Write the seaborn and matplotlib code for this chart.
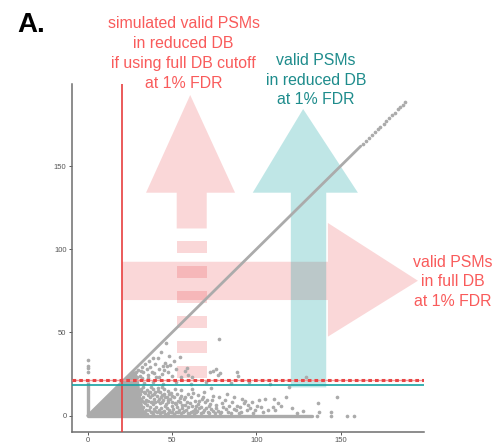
import matplotlib
matplotlib.use("Agg")
import matplotlib.pyplot as plt
import seaborn as sns
import pandas as pd
from matplotlib.patches import Polygon, Rectangle

sns.set_theme(style="white")
plt.rcParams['font.family'] = ['Liberation Sans', 'DejaVu Sans']

# ---------------- data ----------------
axis_ticks = [0, 50, 100, 150]
full_db_cutoff = 20.5          # vertical red line (x)
sim_reduced_cutoff = 21.5      # dashed red line (y)
reduced_db_cutoff = 18.3       # teal line (y)

diag_dense = [0, 162]          # points with x == y (dense run)
diag_sparse = [163.5, 165, 167, 168.5, 170.5, 172, 173.5, 175.5, 177, 179,
               180.5, 182, 184, 185.5, 187, 188.5]
zero_col_y = [0, 20]           # dense run of points at x == 0
zero_col_extra_y = [26.5, 28.5, 30, 33.5]
zero_row_x = [0, 133]          # dense run of points at y == 0
core_x = [0, 27, 29, 30.5, 31.5, 33, 35, 0]
core_y = [0, 27, 26, 20, 12, 5, 0, 0]

upper_x = [25.5, 27, 28.5, 30, 31, 32, 33, 34, 35, 35.5, 36.5, 37, 38, 39, 40, 40.5,
           41.9, 42.5, 43.5, 44, 45.3, 45.8, 46.5, 47.2, 48.5, 50, 51, 54.9, 57.7, 58.7,
           59.7, 62, 72.5, 74.5, 76.1, 77.5, 78.1, 78.5, 88.4, 89.3, 129.3,
           26, 29, 32.5, 36, 39.5, 42, 44.5, 47.8, 49, 52.5, 55.5, 31.5]
upper_y = [23.5, 24.5, 26, 27.5, 24, 29.5, 26, 31, 28, 24.5, 33, 29.5, 26.5, 34.5, 31, 23.5,
           34.5, 28, 38, 25, 27.5, 31.9, 43.9, 29.9, 36, 24, 33, 35.1, 27.1, 28.5,
           24.5, 23, 26.4, 27, 27.9, 24.5, 45.9, 25.8, 26.4, 23.9, 23.4,
           22.5, 23, 22.5, 22.8, 25.5, 23, 30, 26, 30.5, 28, 23.5, 27]
band_x = [33.5, 38.5, 44.5, 52.5, 61.0, 70.0, 85.0, 95.5, 108.0]
band_y = [19.5, 20.0, 19.0, 20.5, 19.2, 20.0, 19.5, 20.2, 19.0]
dense_x = [30.6, 31.3, 30.8, 31.6, 30.9, 31.4, 33.2, 32.7, 33.5, 32.9, 33.4, 33.0,
           35.1, 34.6, 35.4, 34.8, 35.6, 35.2, 37.3, 36.8, 37.5, 36.9, 37.2, 37.6,
           39.0, 39.4, 38.8, 39.6, 39.1, 38.9, 41.2, 40.8, 41.5, 41.0, 41.7,
           43.1, 43.6, 42.9, 43.4, 43.0, 43.8, 45.2, 45.7, 44.9, 45.5, 45.1,
           47.4, 46.9, 47.6, 47.1, 47.8, 49.3, 49.8, 49.0, 49.6,
           32.0, 32.2, 31.9, 34.0, 34.2, 33.9, 36.1, 35.9, 36.2, 38.0, 38.2, 37.9,
           40.1, 39.9, 40.2, 42.0, 42.2, 41.9, 44.1, 43.9, 44.2, 46.0, 46.2, 45.9,
           48.1, 47.9, 48.3, 50.0, 50.2, 49.8]
dense_y = [1.5, 4.0, 7.0, 10.0, 13.0, 16.0, 2.5, 5.5, 8.5, 11.5, 14.5, 17.0,
           1.0, 3.5, 6.5, 9.5, 12.5, 15.5, 2.0, 5.0, 8.0, 11.0, 14.0, 17.5,
           1.0, 4.0, 7.0, 10.0, 13.0, 16.0, 2.5, 5.5, 9.0, 12.0, 15.0,
           1.5, 4.5, 7.5, 11.0, 14.0, 17.0, 3.0, 6.0, 9.5, 13.0, 16.0,
           1.5, 4.5, 8.0, 11.5, 15.0, 2.5, 6.0, 10.0, 13.5,
           3.0, 9.0, 15.0, 1.5, 7.5, 13.5, 3.5, 9.0, 14.5, 2.5, 8.5, 12.5,
           3.0, 8.5, 14.5, 3.5, 10.0, 16.5, 2.0, 8.5, 12.5, 1.0, 7.0, 11.5,
           3.5, 9.5, 13.0, 2.0, 8.5, 12.0]
mid_x = [51.2, 50.7, 51.5, 51.0, 51.8, 53.4, 53.0, 53.7, 52.9, 55.3, 55.8, 55.0, 55.6, 55.2,
         57.4, 57.9, 57.1, 59.2, 59.7, 58.9, 59.5, 61.3, 61.8, 61.0, 61.6, 63.2, 63.7, 63.4,
         65.1, 65.6, 65.3, 67.4, 67.0, 67.7, 69.2, 69.6, 69.0, 71.3, 71.8, 73.1, 73.6, 73.3,
         52.1, 52.4, 54.2, 54.5, 56.3, 56.1, 58.2, 58.0, 60.1, 60.4, 62.3, 62.5, 64.2, 64.4,
         66.1, 66.3, 68.2, 68.4, 70.1, 70.6, 72.2, 72.4, 74.2, 74.5, 76.3, 78.4, 80.5, 81.2,
         83.5, 84.0, 86.5, 87.0, 89.5, 90.2, 93.2, 96.0, 100.5, 103.0, 107.0, 113.0, 121.0, 128.0]
mid_y = [1.0, 4.0, 7.5, 11.0, 16.0, 2.5, 5.5, 9.0, 13.0, 1.5, 4.5, 8.0, 12.0, 15.5,
         3.0, 6.5, 10.0, 1.5, 5.0, 8.5, 13.0, 2.5, 6.0, 11.0, 16.0, 1.0, 4.0, 9.0,
         3.0, 7.0, 12.5, 1.5, 5.0, 10.0, 3.5, 8.0, 14.0, 2.0, 6.0, 4.0, 9.5, 16.5,
         2.0, 7.0, 3.5, 10.5, 2.0, 6.5, 3.5, 11.0, 1.0, 7.5, 3.0, 13.5, 2.0, 6.0,
         4.5, 9.0, 2.0, 11.5, 4.5, 9.5, 1.5, 7.0, 3.0, 12.0, 4.5, 1.5, 5.0, 9.5,
         2.5, 6.0, 4.0, 11.0, 1.5, 5.5, 9.0, 4.5, 6.0, 5.0, 3.5, 7.5, 4.5, 3.0]
sparse_x = [75.4, 75.9, 77.2, 77.7, 79.3, 79.8, 82.1, 82.6, 85.2, 85.7, 88.0, 88.5, 91.1, 91.6,
            92.7, 94.3, 95.0, 97.3, 97.8, 99.2, 101.8, 104.0, 105.2, 110.1, 110.5, 111.1,
            114.5, 117.6, 119.6, 124.0, 136.4, 137.4, 144.1, 147.7, 136.2, 144.1, 153.6, 158.1]
sparse_y = [1.5, 6.5, 3.0, 11.0, 2.0, 7.5, 4.0, 13.0, 1.5, 8.0, 3.5, 6.0, 2.0, 10.0,
            7.5, 3.4, 6.5, 8.4, 1.5, 3.4, 9.4, 2.0, 9.9, 5.0, 9.9, 3.4,
            5.8, 11.1, 17.1, 1.5, 7.4, 2.4, 2.4, 11.4, 0.0, 0.0, 0.0, 0.0]

# annotation arrow geometry (data units)
pink_up_x = [52.8, 70.6, 70.6, 87.4, 60.8, 34.6, 52.8]
pink_up_y = [112.5, 112.5, 134, 134, 192.7, 134, 134]
pink_dash_bottoms = [22.5, 37.5, 52.5, 67.5, 82.5, 97.5]
pink_dash_height = 7.5
teal_up_x = [120.5, 141.5, 141.5, 160.3, 127.8, 97.9, 120.5]
teal_up_y = [17, 17, 134, 134, 184.3, 134, 134]
pink_right_x = [20.5, 142.5, 142.5, 195.9, 142.5, 142.5, 20.5]
pink_right_y = [69.5, 69.5, 47.5, 81.1, 115.8, 92.5, 92.5]

red_title = ["simulated valid PSMs", "in reduced DB", "if using full DB cutoff", "at 1% FDR"]
teal_title = ["valid PSMs", "in reduced DB", "at 1% FDR"]
right_title = ["valid PSMs", "in full DB", "at 1% FDR"]

# ---------------- colours ----------------
PT = '#ABABAB'
RED_TXT = '#F95B5B'
TEAL_TXT = '#1E8C8C'
RED_LINE = '#E83E3E'
TEAL_LINE = '#17A2A2'
PINK_FILL = '#E8383D'
TEAL_FILL = '#009E9E'

W, H = 498, 443
fig = plt.figure(figsize=(W / 100, H / 100), dpi=100)
ax_l, ax_r, ax_t, ax_b = 71.7, 424.0, 83.7, 431.5
ax = fig.add_axes([ax_l / W, 1 - ax_b / H, (ax_r - ax_l) / W, (ax_b - ax_t) / H])
ax.set_xlim(-9.5, 199.5)
ax.set_ylim(-9.5, 199.5)

# arrows
ax.add_patch(Polygon(list(zip(pink_up_x, pink_up_y)), closed=True,
                     facecolor=PINK_FILL, alpha=0.2, lw=0, zorder=1))
for b in pink_dash_bottoms:
    ax.add_patch(Rectangle((pink_up_x[0], b), pink_up_x[1] - pink_up_x[0], pink_dash_height,
                           facecolor=PINK_FILL, alpha=0.2, lw=0, zorder=1))
ax.add_patch(Polygon(list(zip(pink_right_x, pink_right_y)), closed=True,
                     facecolor=PINK_FILL, alpha=0.2, lw=0, zorder=1))
ax.add_patch(Polygon(list(zip(teal_up_x, teal_up_y)), closed=True,
                     facecolor=TEAL_FILL, alpha=0.25, lw=0, zorder=1.5))

# dense regions of points
ax.fill(core_x, core_y, color=PT, lw=0, zorder=2)
ax.plot(diag_dense, diag_dense, color=PT, lw=2.0, solid_capstyle='round', zorder=2)
ax.plot([0, 0], zero_col_y, color=PT, lw=2.4, solid_capstyle='butt', zorder=2)
ax.plot(zero_row_x, [0, 0], color=PT, lw=2.4, solid_capstyle='round', zorder=2)

pts = pd.DataFrame({
    'x': diag_sparse + [0] * len(zero_col_extra_y) + upper_x + band_x + dense_x + mid_x + sparse_x,
    'y': diag_sparse + zero_col_extra_y + upper_y + band_y + dense_y + mid_y + sparse_y,
})
sns.scatterplot(data=pts, x='x', y='y', ax=ax, s=7, color=PT, linewidth=0, zorder=2.5)

# cutoff lines
ax.axvline(full_db_cutoff, color=RED_LINE, lw=1.2, zorder=3)
ax.axhline(sim_reduced_cutoff, color='#F39A9A', lw=1.0, zorder=3)
ax.axhline(sim_reduced_cutoff, color='#E84545', lw=2.2, dashes=(1.2, 1.0), zorder=3.1)
ax.axhline(reduced_db_cutoff, color=TEAL_LINE, lw=1.2, zorder=3)

# axes style
for s in ['top', 'right']:
    ax.spines[s].set_visible(False)
for s in ['left', 'bottom']:
    ax.spines[s].set_color('#6E6E6E')
    ax.spines[s].set_linewidth(1.1)
ax.set_xticks(axis_ticks)
ax.set_yticks(axis_ticks)
ax.tick_params(axis='both', length=2.2, width=0.7, color='#555555', labelsize=5.5,
               labelcolor='#555555', pad=1.5, left=True, bottom=True)
ax.set_xlabel('')
ax.set_ylabel('')
ax.grid(False)

# texts
def put_lines(lines, cx, base0, step, color):
    for i, t in enumerate(lines):
        fig.text(cx / W, 1 - (base0 + i * step) / H, t, ha='center', va='baseline',
                 fontsize=11.4, color=color)

put_lines(red_title, 183.5, 28.3, 19.75, RED_TXT)
put_lines(teal_title, 316, 65.0, 19.7, TEAL_TXT)
put_lines(right_title, 452.5, 266.7, 19.7, RED_TXT)
fig.text(17 / W, 1 - 31.7 / H, "A.", ha='left', va='baseline', fontsize=20,
         fontweight='bold', color='black')

fig.savefig('out.png', dpi=100)
